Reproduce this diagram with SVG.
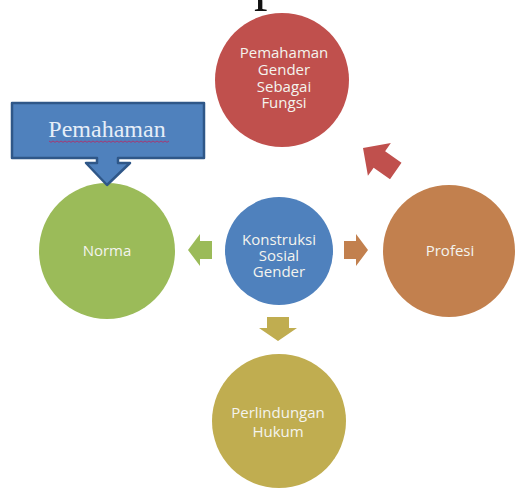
<svg xmlns="http://www.w3.org/2000/svg" width="515" height="488" viewBox="0 0 515 488">
<style>
.lbl{font-family:"Open Sans","Liberation Sans",sans-serif;font-size:15px;fill:#f4f4ee;text-anchor:middle}
.red{fill:#c0504d}.grn{fill:#9bbb59}.org{fill:#c2804e}.blu{fill:#4f81bd}.olv{fill:#c0ad50}
</style>
<rect width="515" height="488" fill="#ffffff"/>
<text x="254" y="-1.5" font-family="'Liberation Serif',serif" font-size="54" fill="#111">p</text>
<g id="connectors">
  <path class="grn" d="M188,250 L200,234 V241 H212 V259 H200 V266 Z"/>
  <path class="org" d="M368,250 L356,234 V241 H344 V259 H356 V266 Z"/>
  <path class="olv" d="M278,341 L259,328 H267 V317 H289 V328 H297 Z"/>
  <path class="red" d="M0,0 L-20,20 V10 H-40 V-10 H-20 V-20 Z" transform="translate(363,148) rotate(215)"/>
</g>
<g id="node-fungsi">
  <circle class="red" cx="282" cy="80" r="67"/>
  <text class="lbl" x="284" y="58">Pemahaman</text>
  <text class="lbl" x="284" y="75">Gender</text>
  <text class="lbl" x="284" y="92">Sebagai</text>
  <text class="lbl" x="284" y="108">Fungsi</text>
</g>
<g id="node-norma">
  <circle class="grn" cx="107" cy="251" r="68"/>
  <text class="lbl" x="107" y="256">Norma</text>
</g>
<g id="node-konstruksi">
  <circle class="blu" cx="279" cy="251" r="54"/>
  <text class="lbl" x="279" y="245">Konstruksi</text>
  <text class="lbl" x="279" y="261">Sosial</text>
  <text class="lbl" x="279" y="277">Gender</text>
</g>
<g id="node-profesi">
  <circle class="org" cx="449" cy="251" r="66"/>
  <text class="lbl" x="450" y="256">Profesi</text>
</g>
<g id="node-hukum">
  <circle class="olv" cx="279" cy="421" r="67"/>
  <text class="lbl" x="278" y="418">Perlindungan</text>
  <text class="lbl" x="278" y="437">Hukum</text>
</g>
<g id="node-pemahaman">
  <path d="M12,103 H204 V158 H118 V163 H130 L107,185 L86,163 H97 V158 H12 Z" fill="#4f81bd" stroke="#2f5788" stroke-width="2.5" stroke-linejoin="round"/>
  <text x="107" y="137" font-family="'Liberation Serif',serif" font-size="24" fill="#e6eef8" text-anchor="middle">Pemahaman</text>
  <path d="M49,141 l2 1.3 2 -1.3 2 1.3 2 -1.3 2 1.3 2 -1.3 2 1.3 2 -1.3 2 1.3 2 -1.3 2 1.3 2 -1.3 2 1.3 2 -1.3 2 1.3 2 -1.3 2 1.3 2 -1.3 2 1.3 2 -1.3 2 1.3 2 -1.3 2 1.3 2 -1.3 2 1.3 2 -1.3 2 1.3 2 -1.3 2 1.3 2 -1.3 2 1.3 2 -1.3 2 1.3 2 -1.3 2 1.3 2 -1.3 2 1.3 2 -1.3 2 1.3 2 -1.3 2 1.3 2 -1.3 2 1.3 2 -1.3 2 1.3 2 -1.3 2 1.3 2 -1.3 2 1.3 2 -1.3 2 1.3 2 -1.3 2 1.3 2 -1.3 2 1.3 2 -1.3 2 1.3 2 -1.3 2 1.3 2 -1.3" fill="none" stroke="#b0306a" stroke-width="0.9"/>
</g>
</svg>
